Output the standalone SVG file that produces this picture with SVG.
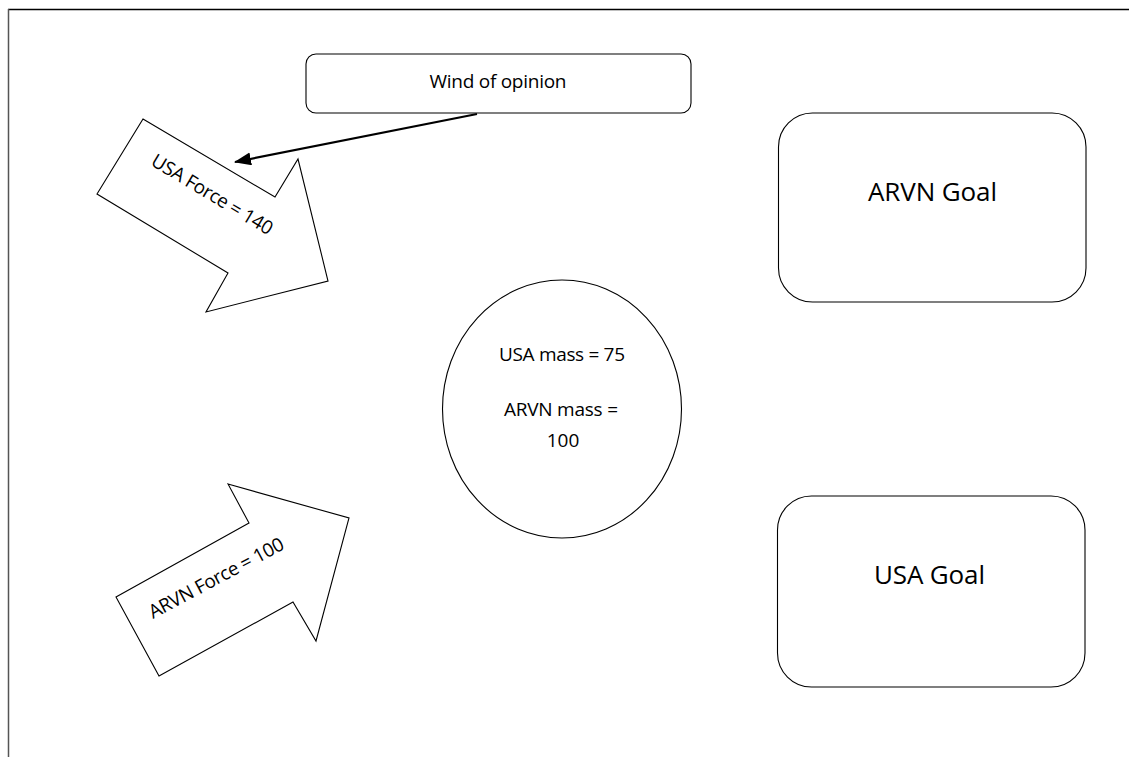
<svg xmlns="http://www.w3.org/2000/svg" width="1129" height="757" viewBox="0 0 1129 757">
  <style>
    .shape { fill: #ffffff; stroke: #000000; stroke-width: 1.1; }
    .label { font-family: "Open Sans", "Noto Sans", "Liberation Sans", sans-serif; fill: #000000; text-anchor: middle; }
    .small { font-size: 19px; }
    .large { font-size: 26px; }
    .link { stroke: #000000; stroke-width: 2.2; fill: none; }
  </style>
  <defs>
    <marker id="head" markerUnits="userSpaceOnUse" markerWidth="18" markerHeight="14" refX="16" refY="6.5" orient="auto">
      <path d="M0,0 L17,6.5 L0,13 Z" fill="#000000"/>
    </marker>
  </defs>

  <rect width="1129" height="757" fill="#ffffff"/>

  <!-- page frame -->
  <g id="frame">
    <line x1="8" y1="9.5" x2="1129" y2="9.5" stroke="#000000" stroke-width="1.3"/>
    <line x1="8.5" y1="9" x2="8.5" y2="757" stroke="#555555" stroke-width="1.5"/>
  </g>

  <g id="wind">
    <rect class="shape" x="306" y="54" width="385" height="59" rx="10" ry="10"/>
    <text class="label small" x="498" y="88" textLength="137">Wind of opinion</text>
  </g>

  <g id="usa-force">
    <polygon class="shape" points="143,119 275,197 298,159 328,281 206,312 228,273 97,194"/>
    <text class="label small" transform="translate(212.5,194) rotate(31)" x="0" y="7" textLength="138">USA Force = 140</text>
  </g>

  <g id="arvn-force">
    <polygon class="shape" points="228,484 349,518 316,641 293,602 159,676 116,597 249,523"/>
    <text class="label small" transform="translate(216,577.5) rotate(-28)" x="0" y="7" textLength="150">ARVN Force = 100</text>
  </g>

  <g id="mass">
    <ellipse class="shape" cx="562" cy="409" rx="119.5" ry="129"/>
    <text class="label small" x="562" y="361" textLength="126">USA mass = 75</text>
    <text class="label small" x="561" y="416" textLength="114">ARVN mass =</text>
    <text class="label small" x="563" y="447">100</text>
  </g>

  <g id="arvn-goal">
    <rect class="shape" x="778.5" y="113" width="307.5" height="189" rx="34" ry="34"/>
    <text class="label large" x="932.5" y="201" textLength="129">ARVN Goal</text>
  </g>

  <g id="usa-goal">
    <rect class="shape" x="777.5" y="496" width="307.5" height="191" rx="34" ry="34"/>
    <text class="label large" x="929.5" y="584" textLength="111">USA Goal</text>
  </g>

  <g id="connectors">
    <line class="link" x1="477" y1="114" x2="235" y2="162" marker-end="url(#head)"/>
  </g>
</svg>
